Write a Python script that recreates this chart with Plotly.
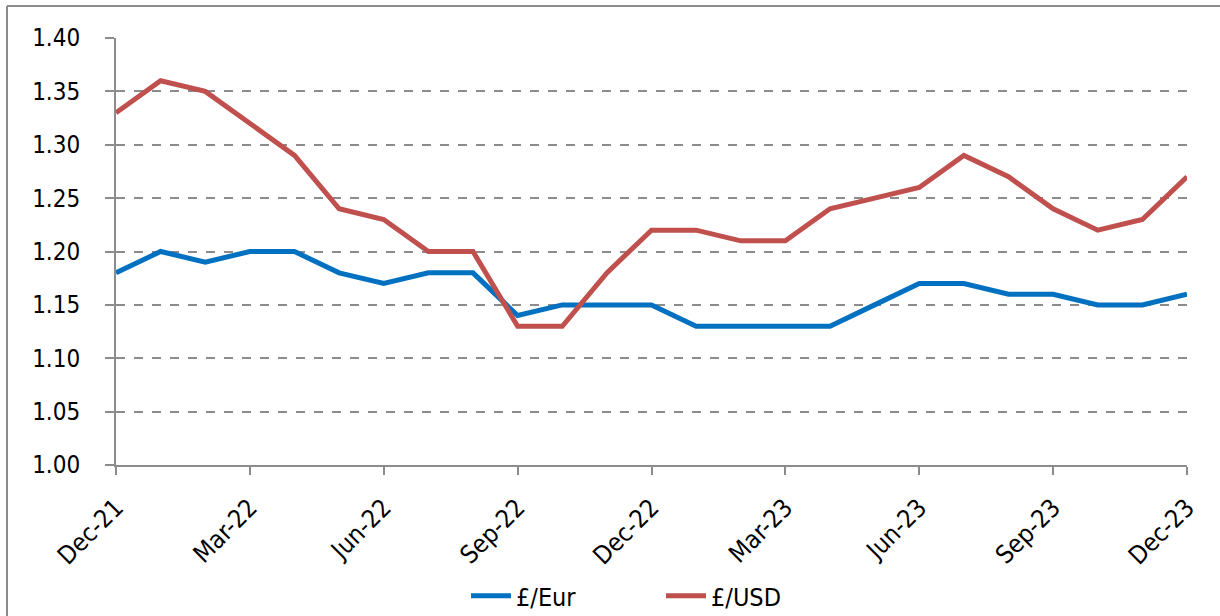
import plotly.graph_objects as go

months = ["Dec-21", "Jan-22", "Feb-22", "Mar-22", "Apr-22", "May-22", "Jun-22",
          "Jul-22", "Aug-22", "Sep-22", "Oct-22", "Nov-22", "Dec-22", "Jan-23",
          "Feb-23", "Mar-23", "Apr-23", "May-23", "Jun-23", "Jul-23", "Aug-23",
          "Sep-23", "Oct-23", "Nov-23", "Dec-23"]
gbp_eur = [1.18, 1.20, 1.19, 1.20, 1.20, 1.18, 1.17, 1.18, 1.18, 1.14, 1.15, 1.15,
           1.15, 1.13, 1.13, 1.13, 1.13, 1.15, 1.17, 1.17, 1.16, 1.16, 1.15, 1.15, 1.16]
gbp_usd = [1.33, 1.36, 1.35, 1.32, 1.29, 1.24, 1.23, 1.20, 1.20, 1.13, 1.13, 1.18,
           1.22, 1.22, 1.21, 1.21, 1.24, 1.25, 1.26, 1.29, 1.27, 1.24, 1.22, 1.23, 1.27]
tick_labels = ["Dec-21", "Mar-22", "Jun-22", "Sep-22", "Dec-22", "Mar-23",
               "Jun-23", "Sep-23", "Dec-23"]

FONT = "DejaVu Sans Condensed, DejaVu Sans, sans-serif"
FS = 24
W, H = 1220, 616
ml, mr, mt, mb = 116, 33, 38, 151
pw, ph = W - ml - mr, H - mt - mb

fig = go.Figure()
fig.add_trace(go.Scatter(x=months, y=gbp_eur, mode="lines", name="£/Eur",
                         line=dict(color="#0070C0", width=5)))
fig.add_trace(go.Scatter(x=months, y=gbp_usd, mode="lines", name="£/USD",
                         line=dict(color="#C0504D", width=5)))

def px_x(p):
    return (p - ml) / pw

def px_y(p):
    return (H - mb - p) / ph

border = "#8c8c8c"
fig.add_shape(type="line", xref="paper", yref="paper",
              x0=px_x(7), x1=px_x(7), y0=px_y(6), y1=px_y(640),
              line=dict(color=border, width=2))
fig.add_shape(type="line", xref="paper", yref="paper",
              x0=px_x(7), x1=px_x(1240), y0=px_y(6), y1=px_y(6),
              line=dict(color=border, width=2))

fig.update_layout(
    width=W, height=H,
    margin=dict(l=ml, r=mr, t=mt, b=mb, autoexpand=False),
    paper_bgcolor="white", plot_bgcolor="white",
    font=dict(family=FONT, size=FS, color="black"),
    showlegend=True,
    legend=dict(orientation="h", x=px_x(466), xanchor="left",
                y=px_y(596), yanchor="middle",
                font=dict(family=FONT, size=25), itemwidth=40,
                entrywidth=140, entrywidthmode="pixels"),
    xaxis=dict(
        type="category", categoryorder="array", categoryarray=months,
        range=[0, len(months) - 1], automargin=False, ticklabelstandoff=8,
        tickmode="array", tickvals=tick_labels, ticktext=tick_labels,
        tickangle=-45, ticks="outside", ticklen=8, tickwidth=2,
        tickcolor="#8c8c8c", showline=True, linecolor="#8c8c8c", linewidth=2,
        showgrid=False, zeroline=False, tickfont=dict(family=FONT, size=25),
    ),
    yaxis=dict(
        range=[1.00, 1.40], dtick=0.05, tick0=1.0, tickformat=".2f",
        automargin=False, ticklabelstandoff=20,
        ticks="outside", ticklen=9, tickwidth=2, tickcolor="#8c8c8c",
        showline=True, linecolor="#8c8c8c", linewidth=2,
        showgrid=True, gridcolor="#8c8c8c", gridwidth=1.5, griddash="dash",
        zeroline=False, tickfont=dict(family=FONT, size=FS),
    ),
)

fig.write_html("out.html", config={"displayModeBar": False},
               post_script="document.body.style.margin='0';document.body.style.overflow='hidden';")
